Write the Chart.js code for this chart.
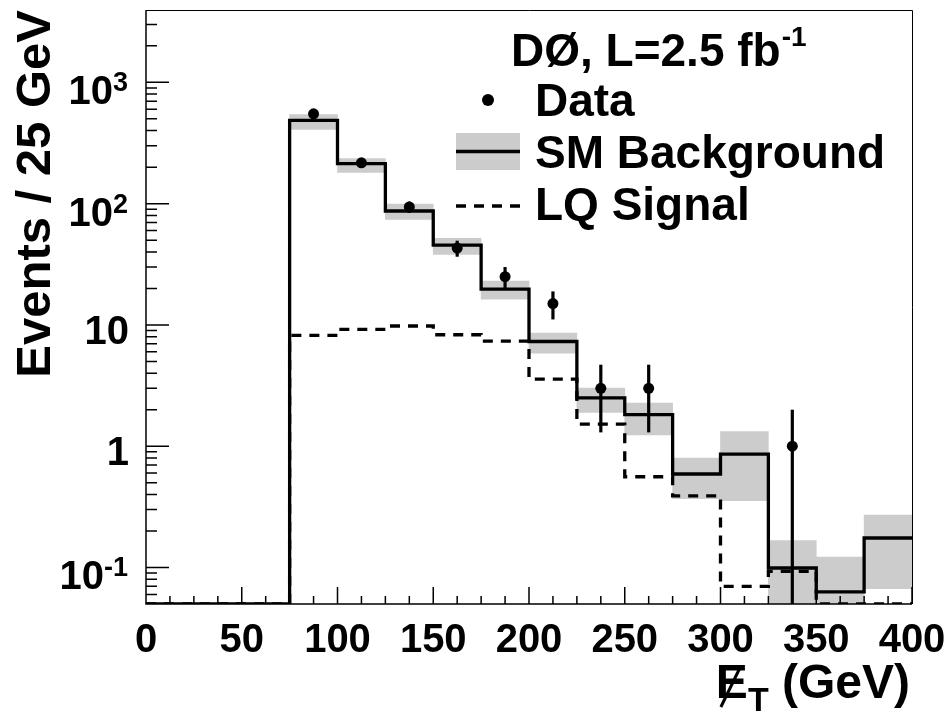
<!DOCTYPE html>
<html>
<head>
<meta charset="utf-8">
<title>Missing ET</title>
<script src="https://cdn.jsdelivr.net/npm/chart.js@4.4.0/dist/chart.umd.min.js"></script>
<style>
  html, body { margin: 0; padding: 0; background: #fff; }
  #plot { display: block; }
</style>
</head>
<body>
<canvas id="plot" width="948" height="716"></canvas>
<script>
const FONT = "'Liberation Sans', Arial, Helvetica, sans-serif";

// 25 GeV bins, 0 - 400 GeV
const binEdges = [0, 25, 50, 75, 100, 125, 150, 175, 200, 225, 250, 275, 300, 325, 350, 375, 400];
const smBackground = [0, 0, 0, 486, 214, 87, 45.5, 19.7, 7.3, 2.5, 1.82, 0.59, 0.86, 0.099, 0.063, 0.175];
const smBandLow  = [0, 0, 0, 410, 181, 74, 38.2, 16.3, 5.85, 1.9, 1.24, 0.37, 0.356, 0.05, 0.05, 0.067];
const smBandHigh = [0, 0, 0, 542, 235, 99, 51.7, 23, 8.55, 3.01, 2.27, 0.80, 1.32, 0.167, 0.122, 0.27];
const lqSignal = [0, 0, 0, 8.2, 9.2, 9.8, 8.3, 7.35, 3.57, 1.52, 0.56, 0.39, 0.07, 0.093, 0.05, 0.05];
const dataCounts = [0, 0, 0, 550, 217, 94, 43, 25, 15, 3, 3, 0, 0, 1, 0, 0];
const dataErrors = [0, 0, 0, 23, 15, 10, 6.5, 5, 3.9, 1.7, 1.7, 0, 0, 1, 0, 0];

const yTickValues = [0.1, 1, 10, 100, 1000];
const yTickBase = ['10', '1', '10', '10', '10'];
const yTickExp = ['-1', '', '', '2', '3'];
const xTickStep = 50;

const yMin = 0.05, yMax = 3950;
const xMin = 0, xMax = 400;

const binCenters = binEdges.slice(0, -1).map((e, i) => (e + binEdges[i + 1]) / 2);

// histogram outline: one point per left edge, plus the closing right edge
function histPoints(values) {
  const pts = values.map((v, i) => ({ x: binEdges[i], y: v > 0 ? v : yMin }));
  pts.push({ x: binEdges[binEdges.length - 1], y: pts[pts.length - 1].y });
  return pts;
}

const bandPoints = binCenters
  .map((c, i) => ({ x: c, y: [smBandLow[i], smBandHigh[i]] }))
  .filter((p, i) => smBackground[i] > 0);

const dataPoints = binCenters
  .map((c, i) => ({ x: c, y: dataCounts[i] }))
  .filter(p => p.y > 0);

const errorBars = {
  id: 'errorBars',
  afterDatasetsDraw(chart) {
    const { ctx, chartArea: a, scales: { x, y } } = chart;
    ctx.save();
    ctx.strokeStyle = '#000';
    ctx.lineWidth = 3.2;
    binCenters.forEach((c, i) => {
      if (dataCounts[i] <= 0 || dataErrors[i] <= 0) return;
      const px = x.getPixelForValue(c);
      const lo = dataCounts[i] - dataErrors[i];
      const top = y.getPixelForValue(dataCounts[i] + dataErrors[i]);
      const bot = lo > 0 ? Math.min(y.getPixelForValue(lo), a.bottom) : a.bottom;
      ctx.beginPath();
      ctx.moveTo(px, top);
      ctx.lineTo(px, bot);
      ctx.stroke();
    });
    ctx.restore();
  }
};

// inward tick marks, frame and y labels with exponents
const axisDecor = {
  id: 'axisDecor',
  afterDatasetsDraw(chart) {
    const { ctx, chartArea: a, scales: { x, y } } = chart;
    ctx.save();
    ctx.strokeStyle = '#000';
    ctx.lineWidth = 1.5;
    ctx.beginPath();
    for (let e = -2; e <= 3; e++) {
      for (let k = 1; k <= 9; k++) {
        const v = k * Math.pow(10, e);
        if (v <= yMin || v >= yMax) continue;
        const py = y.getPixelForValue(v);
        ctx.moveTo(a.left, py);
        ctx.lineTo(a.left + (k === 1 ? 23 : 11), py);
      }
    }
    for (let v = xMin; v <= xMax; v += xTickStep / 4) {
      const px = x.getPixelForValue(v);
      ctx.moveTo(px, a.bottom);
      ctx.lineTo(px, a.bottom - (v % xTickStep === 0 ? 17 : 8));
    }
    ctx.moveTo(a.left, a.top);
    ctx.lineTo(a.left, a.bottom);
    ctx.lineTo(a.right, a.bottom);
    ctx.stroke();

    ctx.lineWidth = 1;
    ctx.beginPath();
    ctx.moveTo(a.left, a.top + 0.5);
    ctx.lineTo(a.right + 0.5, a.top + 0.5);
    ctx.lineTo(a.right + 0.5, a.bottom);
    ctx.stroke();

    // y tick labels
    const right = 128;
    ctx.fillStyle = '#000';
    ctx.textBaseline = 'alphabetic';
    yTickValues.forEach((v, i) => {
      const py = y.getPixelForValue(v);
      if (yTickExp[i]) {
        ctx.font = `bold 27px ${FONT}`;
        const ew = ctx.measureText(yTickExp[i]).width;
        ctx.textAlign = 'left';
        ctx.fillText(yTickExp[i], right - ew, py + 9);
        ctx.font = `bold 40px ${FONT}`;
        ctx.textAlign = 'right';
        ctx.fillText(yTickBase[i], right - ew, py + 22);
      } else {
        ctx.font = `bold 40px ${FONT}`;
        ctx.textAlign = 'right';
        ctx.fillText(yTickBase[i], right + 1, py + 19);
      }
    });
    ctx.restore();
  }
};

// x axis title and legend box
const annotations = {
  id: 'annotations',
  afterDraw(chart) {
    const { ctx, chartArea: a } = chart;
    ctx.save();
    ctx.fillStyle = '#000';
    ctx.strokeStyle = '#000';
    ctx.textAlign = 'left';
    ctx.textBaseline = 'alphabetic';

    // E-slash with subscript T
    const big = `bold 48px ${FONT}`, sub = `bold 34px ${FONT}`;
    ctx.font = big;
    const wE = ctx.measureText('E').width;
    const wRest = ctx.measureText(' (GeV)').width;
    ctx.font = sub;
    const wT = ctx.measureText('T').width;
    let tx = a.right - 2 - (wE + wT + wRest);
    const base = 698;
    ctx.font = big;
    ctx.fillText('E', tx, base);
    ctx.lineWidth = 3;
    ctx.beginPath();
    ctx.moveTo(tx + 5, base + 9);
    ctx.lineTo(tx + 24, base - 30);
    ctx.stroke();
    ctx.font = sub;
    ctx.fillText('T', tx + wE, base + 13);
    ctx.font = big;
    ctx.fillText(' (GeV)', tx + wE + wT, base);

    // legend
    const lf = `bold 46px ${FONT}`;
    ctx.font = lf;
    ctx.fillText('D\u00d8, L=2.5 fb', 511, 66);
    const wt = ctx.measureText('D\u00d8, L=2.5 fb').width;
    ctx.font = `bold 28px ${FONT}`;
    ctx.fillText('-1', 511 + wt + 1, 46);

    ctx.font = lf;
    ctx.beginPath();
    ctx.arc(488, 100, 6, 0, Math.PI * 2);
    ctx.fill();
    ctx.fillText('Data', 535, 116);

    ctx.fillStyle = '#cccccc';
    ctx.fillRect(456, 133, 64, 37);
    ctx.fillStyle = '#000';
    ctx.lineWidth = 3.3;
    ctx.beginPath();
    ctx.moveTo(456, 151.5);
    ctx.lineTo(520, 151.5);
    ctx.stroke();
    ctx.fillText('SM Background', 535, 168);

    ctx.setLineDash([10, 8]);
    ctx.beginPath();
    ctx.moveTo(456, 206);
    ctx.lineTo(520, 206);
    ctx.stroke();
    ctx.setLineDash([]);
    ctx.fillText('LQ Signal', 535, 220);
    ctx.restore();
  }
};

new Chart(document.getElementById('plot').getContext('2d'), {
  type: 'line',
  data: {
    datasets: [
      {
        type: 'bar',
        label: 'SM uncertainty',
        data: bandPoints,
        backgroundColor: '#cccccc',
        borderWidth: 0,
        barPercentage: 1,
        categoryPercentage: 1,
        grouped: false,
        order: 4
      },
      {
        label: 'LQ Signal',
        data: histPoints(lqSignal),
        stepped: 'before',
        borderColor: '#000',
        borderWidth: 3.3,
        borderDash: [10, 8],
        pointRadius: 0,
        fill: false,
        order: 3
      },
      {
        label: 'SM Background',
        data: histPoints(smBackground),
        stepped: 'before',
        borderColor: '#000',
        borderWidth: 3.3,
        pointRadius: 0,
        fill: false,
        order: 2
      },
      {
        label: 'Data',
        data: dataPoints,
        showLine: false,
        pointRadius: 5.5,
        pointBackgroundColor: '#000',
        pointBorderWidth: 0,
        order: 1
      }
    ]
  },
  options: {
    responsive: false,
    animation: false,
    layout: { padding: { left: 0, top: 10, right: 36, bottom: 0 } },
    plugins: { legend: { display: false }, tooltip: { enabled: false } },
    scales: {
      x: {
        type: 'linear',
        min: xMin,
        max: xMax,
        offset: false,
        grid: { display: false, offset: false },
        border: { display: false },
        ticks: {
          stepSize: xTickStep,
          autoSkip: false,
          maxRotation: 0,
          padding: 5,
          color: '#000',
          font: { family: FONT, size: 40, weight: 'bold' }
        },
        afterFit(scale) {
          scale.height = 112;
          scale.paddingLeft = 0;
          scale.paddingRight = 0;
        }
      },
      y: {
        type: 'logarithmic',
        min: yMin,
        max: yMax,
        grid: { display: false },
        border: { display: false },
        ticks: { display: false },
        title: {
          display: true,
          text: 'Events / 25 GeV',
          align: 'end',
          color: '#000',
          padding: { top: 7, bottom: 0 },
          font: { family: FONT, size: 49, weight: 'bold' }
        },
        afterFit(scale) {
          scale.width = 146;
          scale.paddingTop = 0;
          scale.paddingBottom = 0;
        }
      }
    }
  },
  plugins: [errorBars, axisDecor, annotations]
});
</script>
</body>
</html>
